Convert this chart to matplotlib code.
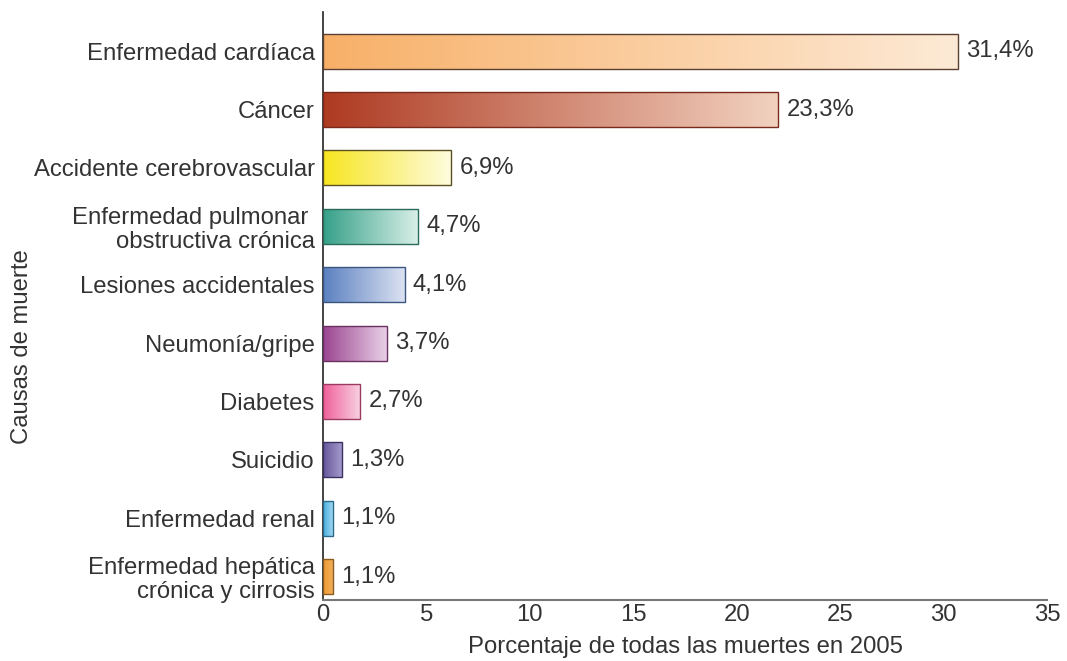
import matplotlib
matplotlib.use("Agg")
import matplotlib.pyplot as plt
import numpy as np
from matplotlib.colors import to_rgb

plt.rcParams['font.family'] = ['Liberation Sans', 'DejaVu Sans']

# bottom to top
causes = ["Enfermedad hepática\ncrónica y cirrosis", "Enfermedad renal", "Suicidio",
          "Diabetes", "Neumonía/gripe", "Lesiones accidentales",
          "Enfermedad pulmonar \nobstructiva crónica", "Accidente cerebrovascular",
          "Cáncer", "Enfermedad cardíaca"]
# bar lengths as drawn in the picture
lengths = [0.5, 0.5, 0.9, 1.8, 3.1, 3.95, 4.6, 6.2, 22.0, 30.7]
value_labels = ["1,1%", "1,1%", "1,3%", "2,7%", "3,7%", "4,1%", "4,7%", "6,9%", "23,3%", "31,4%"]
left_colors = ["#EE9A30", "#45AEE0", "#65569A", "#F0609A", "#9A4590", "#5A80C0",
               "#35A088", "#F8E520", "#AE3A22", "#F8B068"]
right_colors = ["#F3B060", "#A8DCF2", "#A49ACB", "#F8D2E2", "#EAD2E8", "#DCE2F2",
                "#DAF0E8", "#FEFCE0", "#F2D2C0", "#FDEAD6"]
edge_colors = ["#8A5A20", "#2A6A8A", "#3A3060", "#9A3A60", "#6A3060", "#3A5580",
               "#2A6A5A", "#5A5020", "#7A2A1A", "#5A4030"]

fs = 17.2

fig = plt.figure(figsize=(10.67, 6.61), dpi=100)
ax = fig.add_axes([0.3027, 0.0923, 0.6786, 0.8895])

y = np.arange(len(causes))
h = 0.6
bars = ax.barh(y, lengths, height=h, color="none", edgecolor=edge_colors, linewidth=1.0, zorder=3)

for i, b in enumerate(bars):
    c0 = np.array(to_rgb(left_colors[i]))
    c1 = np.array(to_rgb(right_colors[i]))
    t = np.linspace(0, 1, 256)[None, :, None]
    grad = c0 + (c1 - c0) * t
    im = ax.imshow(grad, extent=(0, lengths[i], y[i] - h / 2, y[i] + h / 2),
                   aspect="auto", origin="lower", zorder=2, interpolation="bilinear")
    im.set_clip_path(b)
    ax.text(lengths[i] + 0.4, y[i], value_labels[i], va="center", ha="left",
            fontsize=fs, color="#333333")

ax.set_xlim(0, 35)
ax.set_ylim(-0.4, 9.67)
ax.set_xticks([0, 5, 10, 15, 20, 25, 30, 35])
ax.set_yticks(y)
ax.set_yticklabels(causes)
ax.tick_params(axis="both", length=0, labelsize=fs, labelcolor="#333333")
ax.tick_params(axis="y", pad=6)
ax.tick_params(axis="x", pad=3)
for lbl in ax.get_yticklabels():
    lbl.set_horizontalalignment("right")
    lbl.set_multialignment("right")
    lbl.set_linespacing(1.1)

for s in ["top", "right"]:
    ax.spines[s].set_visible(False)
ax.spines["left"].set_color("#222222")
ax.spines["left"].set_linewidth(1.2)
ax.spines["bottom"].set_color("#777777")
ax.spines["bottom"].set_linewidth(1.5)

ax.set_xlabel("Porcentaje de todas las muertes en 2005", fontsize=fs, color="#333333", labelpad=7)
fig.text(22 / 1067, 0.475, "Causas de muerte", rotation=90, ha="center", va="center",
         fontsize=fs, color="#333333")

fig.savefig("out.png", dpi=100)
